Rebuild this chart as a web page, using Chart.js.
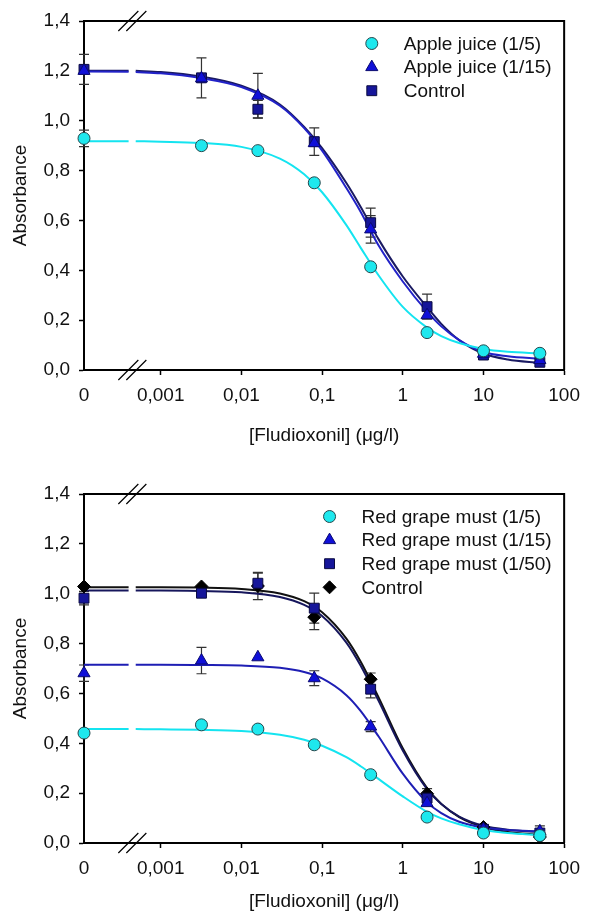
<!DOCTYPE html>
<html>
<head>
<meta charset="utf-8">
<script src="https://cdn.jsdelivr.net/npm/chart.js@4"></script>
<style>
  html, body { margin: 0; padding: 0; background: #fff; }
  .panel { position: absolute; left: 0; width: 589px; }
  #top { top: 0; height: 456px; }
  #bottom { top: 456px; height: 457px; }
</style>
</head>
<body>
<div class="panel" id="top"><canvas id="chartTop"></canvas></div>
<div class="panel" id="bottom"><canvas id="chartBottom"></canvas></div>
<script>
'use strict';

// "0" sits at the left end of the broken log axis
const ZERO_POS = 1.12e-4;
const BREAK_POS = 4.45e-4;

const CONC = [0, 0.0032, 0.016, 0.08, 0.4, 2, 10, 50];
const X_TICKS = [ZERO_POS, 0.001, 0.01, 0.1, 1, 10, 100];
const X_TICK_LABELS = ['0', '0,001', '0,01', '0,1', '1', '10', '100'];

// measured points, upper panel
const APPLE_5 = [0.929, 0.90, 0.88, 0.751, 0.414, 0.15, 0.077, 0.067];
const APPLE_15 = [1.20, 1.17, 1.10, 0.91, 0.564, 0.22, 0.065, 0.04];
const APPLE_CTRL = [1.206, 1.172, 1.046, 0.916, 0.591, 0.254, 0.06, 0.031];
const APPLE_5_ERR = [0.033, 0, 0, 0, 0, 0, 0, 0];
const APPLE_15_ERR = [0, 0, 0.09, 0, 0.055, 0, 0, 0];
const APPLE_CTRL_ERR = [0.06, 0.08, 0.035, 0.055, 0.058, 0.05, 0, 0];

// measured points, lower panel
const GRAPE_5 = [0.441, 0.474, 0.457, 0.394, 0.274, 0.104, 0.04, 0.03];
const GRAPE_15 = [0.681, 0.732, 0.745, 0.661, 0.467, 0.16, 0.055, 0.047];
const GRAPE_50 = [0.982, 1.002, 1.042, 0.942, 0.617, 0.18, 0.055, 0.04];
const GRAPE_CTRL = [1.029, 1.029, 1.031, 0.906, 0.657, 0.198, 0.064, 0.024];
const GRAPE_15_ERR = [0.033, 0.053, 0, 0.03, 0.02, 0, 0, 0.022];
const GRAPE_50_ERR = [0.027, 0, 0.04, 0.06, 0.035, 0, 0, 0];
const GRAPE_CTRL_ERR = [0, 0, 0.055, 0.05, 0.025, 0.02, 0.01, 0.01];

// fitted curves (null = gap at the axis break)
const CURVE_X = [ZERO_POS, 4.0e-4, BREAK_POS, 4.9e-4, 0.001, 0.003, 0.01, 0.03, 0.06, 0.1,
  0.2, 0.3, 0.5, 1, 2, 3, 5, 10, 20, 50];
const APPLE_5_FIT = [0.918, 0.918, null, 0.918, 0.916, 0.911, 0.895, 0.848, 0.785, 0.713,
  0.581, 0.491, 0.380, 0.253, 0.170, 0.136, 0.108, 0.084, 0.073, 0.067];
const APPLE_15_FIT = [1.197, 1.196, null, 1.195, 1.19, 1.172, 1.135, 1.06, 0.97, 0.88,
  0.73, 0.635, 0.50, 0.355, 0.234, 0.175, 0.12, 0.072, 0.055, 0.045];
const APPLE_CTRL_FIT = [1.20, 1.20, null, 1.20, 1.195, 1.178, 1.14, 1.065, 0.975, 0.89,
  0.75, 0.655, 0.525, 0.375, 0.252, 0.185, 0.12, 0.066, 0.042, 0.028];
const GRAPE_5_FIT = [0.457, 0.457, null, 0.457, 0.456, 0.454, 0.449, 0.434, 0.414, 0.390,
  0.344, 0.308, 0.257, 0.187, 0.125, 0.099, 0.075, 0.052, 0.040, 0.032];
const GRAPE_15_FIT = [0.715, 0.715, null, 0.715, 0.715, 0.714, 0.712, 0.703, 0.686, 0.660,
  0.593, 0.530, 0.428, 0.278, 0.163, 0.120, 0.085, 0.062, 0.052, 0.047];
const GRAPE_50_FIT = [1.013, 1.013, null, 1.013, 1.013, 1.011, 1.006, 0.987, 0.955, 0.911,
  0.804, 0.712, 0.571, 0.371, 0.216, 0.156, 0.106, 0.069, 0.053, 0.044];
const GRAPE_CTRL_FIT = [1.026, 1.026, null, 1.026, 1.026, 1.0245, 1.019, 1.001, 0.970, 0.926,
  0.820, 0.728, 0.585, 0.380, 0.220, 0.157, 0.104, 0.064, 0.044, 0.033];

const FONT = '"Liberation Sans", Arial, sans-serif';
Chart.defaults.font.family = FONT;
Chart.defaults.font.size = 19;
Chart.defaults.color = '#111';

const points = (label, vals, errs, style, radius, fill, edge) => ({
  label: label,
  data: CONC.map((c, i) => ({ x: c === 0 ? ZERO_POS : c, y: vals[i] })),
  errors: errs,
  showLine: false,
  pointStyle: style,
  pointRadius: radius,
  pointBackgroundColor: fill,
  pointBorderColor: edge,
  pointBorderWidth: 1,
  backgroundColor: fill,
  borderColor: edge,
  borderWidth: 1,
  clip: false,
  order: 0
});

const curve = (vals, color) => ({
  fit: true,
  data: CURVE_X.map((x, i) => ({ x: x, y: vals[i] })),
  borderColor: color,
  borderWidth: 2,
  pointRadius: 0,
  fill: false,
  spanGaps: false,
  cubicInterpolationMode: 'monotone',
  clip: false,
  order: 1
});

// vertical error bars with caps
const errorBars = {
  id: 'errorBars',
  beforeDatasetsDraw(chart) {
    const ctx = chart.ctx;
    const y = chart.scales.y;
    ctx.save();
    ctx.strokeStyle = '#333';
    ctx.lineWidth = 1.2;
    chart.data.datasets.forEach((ds, i) => {
      if (!ds.errors) return;
      chart.getDatasetMeta(i).data.forEach((pt, j) => {
        const e = ds.errors[j];
        if (!e) return;
        const v = ds.data[j].y;
        const t = y.getPixelForValue(v + e);
        const b = y.getPixelForValue(v - e);
        ctx.beginPath();
        ctx.moveTo(pt.x, t); ctx.lineTo(pt.x, b);
        ctx.moveTo(pt.x - 5, t); ctx.lineTo(pt.x + 5, t);
        ctx.moveTo(pt.x - 5, b); ctx.lineTo(pt.x + 5, b);
        ctx.stroke();
      });
    });
    ctx.restore();
  }
};

// top/right frame and the // axis-break marks
const frame = {
  id: 'frame',
  afterDraw(chart) {
    const { ctx, chartArea: a } = chart;
    ctx.save();
    ctx.strokeStyle = '#000';
    ctx.lineWidth = 2;
    ctx.beginPath();
    ctx.moveTo(a.left, a.top); ctx.lineTo(a.right, a.top); ctx.lineTo(a.right, a.bottom);
    ctx.stroke();
    const bx = chart.scales.x.getPixelForValue(BREAK_POS);
    ctx.lineWidth = 1.2;
    [a.top, a.bottom].forEach(yy => {
      ctx.beginPath();
      ctx.moveTo(bx - 14, yy + 10); ctx.lineTo(bx + 6, yy - 10);
      ctx.moveTo(bx - 6, yy + 10); ctx.lineTo(bx + 14, yy - 10);
      ctx.stroke();
    });
    ctx.restore();
  }
};

// legend in the upper right corner of the plot box
const boxLegend = {
  id: 'boxLegend',
  afterDraw(chart, args, opts) {
    const { ctx, chartArea: a } = chart;
    const items = chart.data.datasets.filter(d => !d.fit);
    ctx.save();
    ctx.font = '19px ' + FONT;
    const w = Math.max(...items.map(d => ctx.measureText(d.label).width));
    const tx = a.right - opts.right - w;
    items.forEach((d, i) => {
      const yy = a.top + opts.top + i * opts.row;
      ctx.fillStyle = d.backgroundColor;
      ctx.strokeStyle = d.borderColor;
      ctx.lineWidth = d.borderWidth;
      Chart.helpers.drawPoint(ctx, { pointStyle: d.pointStyle, radius: d.pointRadius, borderWidth: 1, rotation: 0 }, tx - 32, yy);
      ctx.fillStyle = '#111';
      ctx.textAlign = 'left';
      ctx.textBaseline = 'middle';
      ctx.fillText(d.label, tx, yy + 1);
    });
    ctx.restore();
  }
};

function makeChart(id, datasets, padTop, xHeight, xTitlePad) {
  return new Chart(document.getElementById(id), {
    type: 'line',
    data: { datasets: datasets },
    plugins: [errorBars, frame, boxLegend],
    options: {
      responsive: true,
      maintainAspectRatio: false,
      animation: false,
      events: [],
      layout: { padding: { top: padTop, right: 19, left: 0, bottom: 0 } },
      plugins: {
        legend: { display: false },
        tooltip: { enabled: false },
        boxLegend: { right: 12.5, top: 22.5, row: 23.6 }
      },
      scales: {
        x: {
          type: 'logarithmic',
          min: ZERO_POS,
          max: 100,
          afterBuildTicks: s => { s.ticks = X_TICKS.map(v => ({ value: v })); },
          afterFit: s => { s.height = xHeight; },
          ticks: {
            autoSkip: false,
            maxRotation: 0,
            padding: 9,
            color: '#111',
            callback: (v, i) => X_TICK_LABELS[i]
          },
          grid: {
            drawOnChartArea: false,
            tickLength: 5,
            tickWidth: 1.5,
            tickColor: c => (c.index === 0 ? 'rgba(0,0,0,0)' : '#000')
          },
          border: { color: '#000', width: 2 },
          title: {
            display: true,
            text: '[Fludioxonil] (\u03bcg/l)',
            color: '#111',
            padding: { top: 0, bottom: xTitlePad }
          }
        },
        y: {
          min: 0,
          max: 1.4,
          afterFit: s => { s.width = 84; },
          ticks: {
            stepSize: 0.2,
            padding: 9,
            color: '#111',
            callback: v => v.toFixed(1).replace('.', ',')
          },
          grid: { drawOnChartArea: false, tickLength: 5, tickWidth: 1.5, tickColor: '#000' },
          border: { color: '#000', width: 2 },
          title: {
            display: true,
            text: 'Absorbance',
            color: '#111',
            padding: { top: 9, bottom: 0 }
          }
        }
      }
    }
  });
}

makeChart('chartTop', [
  points('Apple juice (1/5)', APPLE_5, APPLE_5_ERR, 'circle', 6, '#1ee8ee', '#24474c'),
  points('Apple juice (1/15)', APPLE_15, APPLE_15_ERR, 'triangle', 7, '#1010d8', '#0a0a70'),
  points('Control', APPLE_CTRL, APPLE_CTRL_ERR, 'rect', 7, '#16169a', '#0a0a40'),
  curve(APPLE_5_FIT, '#14e4f0'),
  curve(APPLE_15_FIT, '#2222c8'),
  curve(APPLE_CTRL_FIT, '#1a1a62')
], 21, 86, 9);

makeChart('chartBottom', [
  points('Red grape must (1/5)', GRAPE_5, [0, 0, 0, 0, 0, 0, 0, 0], 'circle', 6, '#1ee8ee', '#24474c'),
  points('Red grape must (1/15)', GRAPE_15, GRAPE_15_ERR, 'triangle', 7, '#1010d8', '#0a0a70'),
  points('Red grape must (1/50)', GRAPE_50, GRAPE_50_ERR, 'rect', 7, '#16169a', '#0a0a40'),
  points('Control', GRAPE_CTRL, GRAPE_CTRL_ERR, 'rectRot', 6.5, '#000', '#000'),
  curve(GRAPE_5_FIT, '#14e4f0'),
  curve(GRAPE_15_FIT, '#1e1eb4'),
  curve(GRAPE_50_FIT, '#16165c'),
  curve(GRAPE_CTRL_FIT, '#111')
], 38, 70, 0);
</script>
</body>
</html>
